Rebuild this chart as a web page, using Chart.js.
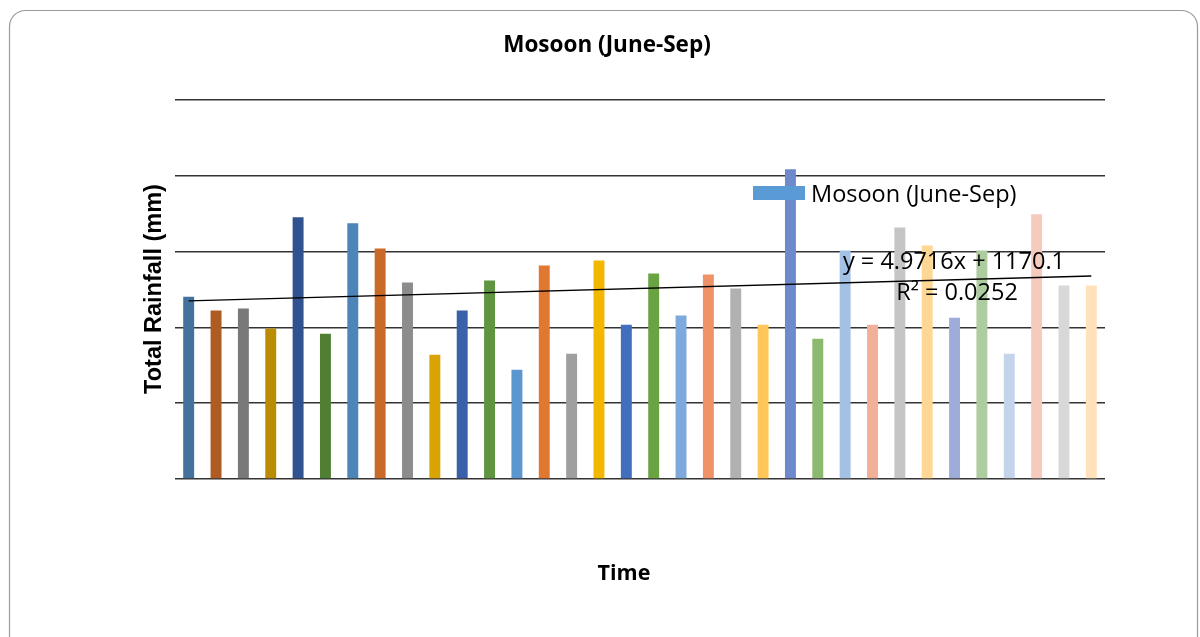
<!DOCTYPE html>
<html>
<head>
<meta charset="utf-8">
<style>
html,body{margin:0;padding:0;background:#fff;}
#wrap{position:relative;width:1200px;height:637px;}
</style>
<script src="https://cdn.jsdelivr.net/npm/chart.js@4"></script>
</head>
<body>
<div id="wrap"><canvas id="c" width="1200" height="637"></canvas></div>
<script>
const categories = ['1','2','3','4','5','6','7','8','9','10','11','12','13','14','15','16','17','18','19','20','21','22','23','24','25','26','27','28','29','30','31','32','33','34'];
const rainfall = [1203,1111,1124,993,1726,958,1687,1521,1296,819,1111,1309,720,1409,826,1442,1018,1356,1078,1349,1256,1018,2044,925,1508,1018,1659,1541,1064,1508,826,1746,1276,1276];
const barColors = ['#43729E','#AF5B22','#797979','#BA8C03','#30528F','#507E33','#4E85B9','#C96A29','#8C8C8C','#D9A401','#3960A8','#5F9440','#5A97CF','#E17831','#9F9F9F','#F2B801','#416EBD','#6AA342','#7EAADB','#EF9267','#B1B1B1','#FFC75A','#6E8ACC','#8BB96E','#A3C1E4','#F2B099','#C5C5C5','#FFD794','#9DACD8','#ADCC9F','#C3D4EB','#F5CBBE','#D8D8D8','#FFE2BA'];
const trendStart = 1175.07;   // y = 4.9716x + 1170.1 at x = 1
const trendEnd = 1339.13;     // at x = 34
const yTicks = [0,500,1000,1500,2000,2500];
const titleText = 'Mosoon (June-Sep)';
const legendText = 'Mosoon (June-Sep)';
const yTitle = 'Total Rainfall (mm)';
const xTitle = 'Time';
const eqText = 'y = 4.9716x + 1170.1';
const r2Text = 'R² = 0.0252';

const trendData = categories.map((c,i)=> i===0 ? trendStart : (i===categories.length-1 ? trendEnd : null));

const decor = {
  id:'decor',
  beforeDraw(chart){
    const ctx = chart.ctx;
    ctx.save();
    ctx.fillStyle='#fff';
    ctx.fillRect(0,0,chart.width,chart.height);
    ctx.strokeStyle='#9a9a9a';
    ctx.lineWidth=1.2;
    ctx.beginPath();
    ctx.roundRect(9.5,10.5,1188,645,16);
    ctx.stroke();
    ctx.restore();
  },
  afterDraw(chart){
    const ctx = chart.ctx;
    ctx.save();
    ctx.fillStyle='#000';
    ctx.textAlign='center';
    ctx.textBaseline='middle';
    ctx.font='bold 22.5px "Open Sans", sans-serif';
    ctx.fillText(titleText,607,46);
    ctx.font='bold 21.5px "Open Sans", sans-serif';
    ctx.fillText(xTitle,624,574);
    ctx.save();
    ctx.translate(155,289);
    ctx.rotate(-Math.PI/2);
    ctx.font='bold 23.5px "Liberation Sans", Arial, sans-serif';
    ctx.fillText(yTitle,0,0);
    ctx.restore();
    // legend
    ctx.fillStyle='#5B9BD5';
    ctx.fillRect(753,186,52,14);
    ctx.fillStyle='#000';
    ctx.textAlign='left';
    ctx.font='23.5px "Open Sans", sans-serif';
    ctx.fillText(legendText,811,195);
    ctx.textAlign='center';
    ctx.fillText(eqText,954,262);
    ctx.fillText(r2Text,957,293);
    ctx.restore();
  }
};

new Chart(document.getElementById('c'),{
  data:{
    labels:categories,
    datasets:[
      {type:'line',label:'Linear trend',data:trendData,spanGaps:true,borderColor:'#000',borderWidth:1.3,pointRadius:0,fill:false,order:0},
      {type:'bar',label:legendText,data:rainfall,backgroundColor:barColors,borderWidth:0,barPercentage:0.4,categoryPercentage:1,order:1}
    ]
  },
  options:{
    responsive:false,
    animation:false,
    devicePixelRatio:1,
    layout:{padding:{left:175,right:95,top:100,bottom:150}},
    plugins:{legend:{display:false},title:{display:false},tooltip:{enabled:false}},
    scales:{
      x:{grid:{display:false},border:{display:false},ticks:{display:false}},
      y:{min:0,max:2500,afterBuildTicks(ax){ax.ticks=yTicks.map(v=>({value:v}));},
         grid:{color:'#333',lineWidth:1.5,drawTicks:false},border:{display:false},ticks:{display:false}}
    }
  },
  plugins:[decor]
});
</script>
</body>
</html>
